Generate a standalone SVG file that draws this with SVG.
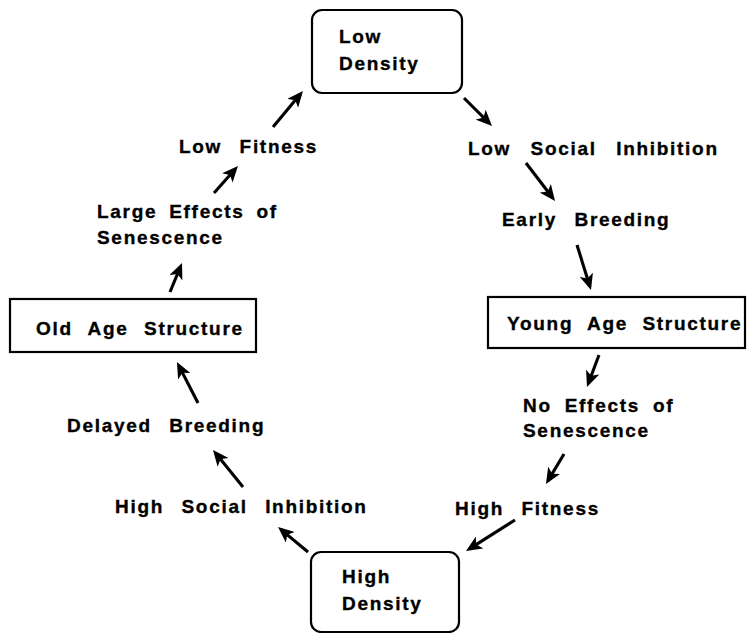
<svg xmlns="http://www.w3.org/2000/svg" width="748" height="633" viewBox="0 0 748 633">
<style>
  text { font-family: "Liberation Sans", Arial, sans-serif; font-weight: bold; font-size: 19px; letter-spacing: 1.7px; word-spacing: 10.5px; fill: #000; stroke: #000; stroke-width: 0.35px; }
  .box { fill: #fff; stroke: #000; stroke-width: 2.2; }
  .arr { fill: none; stroke: #000; stroke-width: 3.1; marker-end: url(#ah); }
</style>
<defs>
  <marker id="ah" viewBox="0 0 16 14" refX="12" refY="7" markerWidth="16" markerHeight="14" markerUnits="userSpaceOnUse" orient="auto">
    <path d="M0,0 L16,7 L0,14 L4,7 Z" fill="#000"/>
  </marker>
</defs>
<rect width="748" height="633" fill="#fff"/>

<g id="low-density">
  <rect class="box" x="312" y="10" width="150" height="83" rx="10"/>
  <text x="339" y="43">Low</text>
  <text x="339" y="70">Density</text>
</g>
<g id="low-social-inhibition"><text x="468" y="155" style="word-spacing:12.5px">Low Social Inhibition</text></g>
<g id="early-breeding"><text x="502" y="226">Early Breeding</text></g>
<g id="young-age-structure">
  <rect class="box" x="488" y="297" width="257" height="51"/>
  <text x="507" y="330" style="word-spacing:7.5px">Young Age Structure</text>
</g>
<g id="no-effects">
  <text x="523" y="412" style="word-spacing:6px">No Effects of</text>
  <text x="523" y="437">Senescence</text>
</g>
<g id="high-fitness"><text x="455" y="515">High Fitness</text></g>
<g id="high-density">
  <rect class="box" x="311" y="552" width="148" height="80" rx="10"/>
  <text x="342" y="583">High</text>
  <text x="342" y="610">Density</text>
</g>
<g id="high-social-inhibition"><text x="115" y="513">High Social Inhibition</text></g>
<g id="delayed-breeding"><text x="67" y="432">Delayed Breeding</text></g>
<g id="old-age-structure">
  <rect class="box" x="10" y="299" width="246" height="53"/>
  <text x="36" y="335" style="word-spacing:8.5px">Old Age Structure</text>
</g>
<g id="large-effects">
  <text x="97" y="218" style="word-spacing:5px">Large Effects of</text>
  <text x="97" y="244">Senescence</text>
</g>
<g id="low-fitness"><text x="179" y="153">Low Fitness</text></g>

<g id="connectors">
  <line class="arr" x1="464" y1="98" x2="489.2" y2="123.2"/>
  <line class="arr" x1="526" y1="163" x2="552.6" y2="197.8"/>
  <line class="arr" x1="577" y1="245" x2="589.8" y2="286.2"/>
  <line class="arr" x1="599" y1="355" x2="588.4" y2="383.3"/>
  <line class="arr" x1="564" y1="454" x2="548" y2="480.6"/>
  <line class="arr" x1="515" y1="520" x2="469.4" y2="548.9"/>
  <line class="arr" x1="308" y1="552" x2="281.1" y2="529.6"/>
  <line class="arr" x1="243" y1="487" x2="215.5" y2="453.1"/>
  <line class="arr" x1="198" y1="403" x2="178.8" y2="365.6"/>
  <line class="arr" x1="170" y1="292" x2="180.5" y2="266.7"/>
  <line class="arr" x1="214" y1="193" x2="235.3" y2="169"/>
  <line class="arr" x1="273" y1="127" x2="300.4" y2="94.1"/>
</g>
</svg>
